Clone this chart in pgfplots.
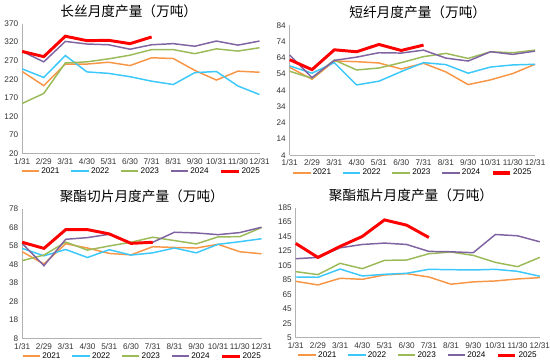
\documentclass[border=0pt]{standalone}
\usepackage{pgfplots}
\pgfplotsset{compat=1.18}
\usepackage{fontspec}
\setmainfont{Liberation Sans}
\newfontfamily\cjk{Noto Sans CJK SC}
\definecolor{c21}{RGB}{247,150,70}
\definecolor{c22}{RGB}{60,200,250}
\definecolor{c23}{RGB}{155,187,89}
\definecolor{c24}{RGB}{128,100,162}
\definecolor{c25}{RGB}{255,0,0}
\pgfplotsset{
  panel/.style={
    scale only axis, height=97pt,
    axis x line=bottom, axis y line=left,
    axis line style={draw=black!30, line width=0.6pt, -},
    xmin=0, xmax=11, xtick={0,...,11},
    xticklabels={1/31,2/29,3/31,4/30,5/31,6/30,7/31,8/31,9/30,10/31,11/30,12/31},
    ticklabel style={font=\fontsize{6.1}{7}\selectfont, text=black!80},
    /pgf/number format/assume math mode=true,
    major tick length=0pt,
    xticklabel style={inner xsep=0pt, inner ysep=0.5pt, yshift=-2.8pt},
    yticklabel style={xshift=0.5pt},
    clip=false,
    title style={font=\cjk\fontsize{10.2}{11}\selectfont, yshift=-5pt},
    legend columns=5,
    legend style={draw=none, fill=none, font=\fontsize{6.1}{7}\selectfont, at={(0.5,-0.102)}, anchor=north, column sep=0pt, inner sep=0pt,
      nodes={inner xsep=1pt, inner ysep=0.3pt},
      /tikz/every even column/.append style={column sep=7pt}},
    legend image code/.code={\draw[#1] (0pt,0pt) -- (13pt,0pt);},
    every axis plot/.append style={line width=1.1pt, mark=none, legend image post style={line width=1.5pt}},
    yr/.style={c25, line width=2.2pt, legend image post style={line width=2.6pt}},
  },
}
\begin{document}
\begin{tikzpicture}
% Panel 1
\begin{axis}[panel, at={(16.5pt,-114.75pt)}, width=177pt, ymin=20, ymax=370, ytick={20,70,...,370},
  title={长丝月度产量（万吨）}, title style={xshift=-9pt}]
\addplot[c21] coordinates {(0,241)(1,203)(2,261)(3,261)(4,266)(5,257)(6,278)(7,276)(8,244)(9,218)(10,242)(11,239)};
\addplot[c22] coordinates {(0,248)(1,225)(2,284)(3,240)(4,236)(5,227)(6,215)(7,206)(8,238)(9,241)(10,202)(11,179)};
\addplot[c23] coordinates {(0,155)(1,182)(2,264)(3,267)(4,275)(5,285)(6,300)(7,300)(8,289)(9,302)(10,296)(11,305)};
\addplot[c24] coordinates {(0,295)(1,267)(2,322)(3,315)(4,313)(5,301)(6,313)(7,316)(8,309)(9,323)(10,312)(11,323)};
\addplot[yr] coordinates {(0,295)(1,281)(2,336)(3,324)(4,325)(5,316)(6,334)};
\legend{2021,2022,2023,2024,2025}
\end{axis}
% Panel 2
\begin{axis}[panel, at={(216pt,-116pt)}, width=183pt, ymin=4, ymax=84, ytick={4,14,...,84},
  title={短纤月度产量（万吨）}, title style={xshift=4pt}]
\addplot[c21] coordinates {(0,58.1)(1,50.8)(2,62)(3,61.6)(4,60.8)(5,57.1)(6,60.6)(7,55.3)(8,47.5)(9,50.4)(10,54.3)(11,60)};
\addplot[c22] coordinates {(0,59)(1,54.5)(2,61)(3,47.3)(4,49.6)(5,55.5)(6,61)(7,59.8)(8,54.5)(9,58.3)(10,59.6)(11,60)};
\addplot[c23] coordinates {(0,55.7)(1,51.4)(2,62.6)(3,56.5)(4,57.7)(5,61)(6,64.7)(7,66.7)(8,63.6)(9,67.7)(10,67.1)(11,68.7)};
\addplot[c24] coordinates {(0,65.7)(1,51.8)(2,62.4)(3,64.4)(4,67.1)(5,66.9)(6,68.7)(7,63.8)(8,62)(9,67.7)(10,66.1)(11,68.1)};
\addplot[yr] coordinates {(0,62.8)(1,56.7)(2,68.9)(3,67.7)(4,72.2)(5,68.5)(6,71.8)};
\legend{2021,2022,2023,2024,2025}
\end{axis}
% Panel 3
\begin{axis}[panel, at={(16.5pt,-252.75pt)}, width=178.5pt, ymin=8, ymax=78, ytick={8,18,...,78},
  title={聚酯切片月度产量（万吨）}]
\addplot[c21] coordinates {(0,54.8)(1,48.2)(2,59.1)(3,56.8)(4,53.9)(5,53.1)(6,57.5)(7,57.1)(8,56.8)(9,58.8)(10,54.8)(11,53.7)};
\addplot[c22] coordinates {(0,56.6)(1,52.6)(2,56)(3,51.7)(4,55.9)(5,53)(6,54.2)(7,56.8)(8,54.2)(9,58.8)(10,60.2)(11,61.8)};
\addplot[c23] coordinates {(0,50)(1,53)(2,60)(3,55.7)(4,57.9)(5,59.9)(6,62.6)(7,60.8)(8,59)(9,62.8)(10,62.9)(11,67.8)};
\addplot[c24] coordinates {(0,59.3)(1,47.3)(2,61.5)(3,62.4)(4,64.2)(5,59.5)(6,59.9)(7,65.3)(8,64.9)(9,64)(10,65.1)(11,68)};
\addplot[yr] coordinates {(0,59.9)(1,56.6)(2,66.7)(3,66.7)(4,64.4)(5,59.3)(6,59.9)};
\legend{2021,2022,2023,2024,2025}
\end{axis}
% Panel 4
\begin{axis}[panel, at={(220.5pt,-252pt)}, width=182pt, ymin=5, ymax=185, ytick={5,25,...,185},
  title={聚酯瓶片月度产量（万吨）}, title style={xshift=-5pt}]
\addplot[c21] coordinates {(0,83)(1,78)(2,87.2)(3,85.8)(4,91.8)(5,93.6)(6,89)(7,79)(8,82.2)(9,83.5)(10,86.3)(11,88.1)};
\addplot[c22] coordinates {(0,89)(1,88.6)(2,100)(3,90.4)(4,92.7)(5,94.1)(6,99.6)(7,99.1)(8,98.7)(9,99.6)(10,96.8)(11,90)};
\addplot[c23] coordinates {(0,96.4)(1,92.3)(2,107.9)(3,100.5)(4,112)(5,112.5)(6,121.2)(7,123.5)(8,118.9)(9,109.2)(10,103.3)(11,116.1)};
\addplot[c24] coordinates {(0,114.3)(1,116.1)(2,129.4)(3,134)(4,135.9)(5,134)(6,124.4)(7,123.9)(8,122.6)(9,147.8)(10,146)(11,137.7)};
\addplot[yr] coordinates {(0,135.4)(1,116.1)(2,131.3)(3,145.1)(4,168)(5,160.7)(6,143.7)};
\legend{2021,2022,2023,2024,2025}
\end{axis}
\end{tikzpicture}
\end{document}
